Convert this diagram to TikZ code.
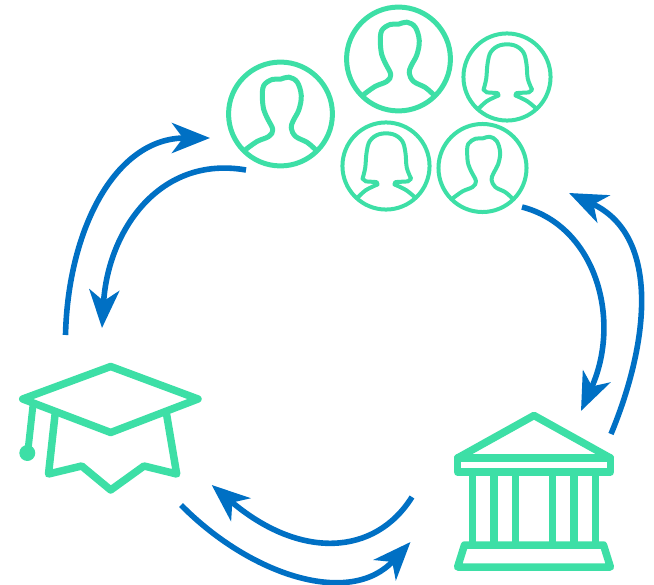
\documentclass[tikz,border=0pt]{standalone}
\usetikzlibrary{arrows.meta}
\definecolor{mint}{HTML}{3DDFA6}
\definecolor{flow}{HTML}{0070C4}
\tikzset{
  icon/.style={draw=mint,line join=round,line cap=round,fill=none},
  flowline/.style={draw=flow,line width=5.6pt,-{Stealth[length=38pt,width=30pt,inset=11pt,fill=flow]}},
  pics/maleface/.style={code={
    \draw[icon,line width=#1] (0,0) circle (155);
    \draw[icon,line width=#1] plot[smooth,tension=.6] coordinates {(-105,107) (-70,82) (-35,67) (-23,47) (-38,15) (-50,-13) (-54,-50) (-50,-85) (-25,-103) (0,-104) (25,-110) (50,-95) (62,-55) (55,-13) (38,20) (32,42) (45,67) (80,85) (105,107)};
  }},
  pics/femaleface/.style={code={
    \draw[icon,line width=#1] (0,0) circle (130);
    \draw[icon,line width=#1] plot[smooth,tension=.6] coordinates {(-85,95) (-60,72) (-25,55)} -- (-28,48) -- (-60,46) -- (-70,38) plot[smooth,tension=.6] coordinates {(-70,38) (-62,5) (-58,-40) (-48,-75) (-20,-95) (20,-95) (48,-75) (58,-40) (62,5) (75,38)} -- (65,46) -- (28,48) -- (25,55) plot[smooth,tension=.6] coordinates {(25,55) (60,72) (88,95)};
  }}
}
\begin{document}
\begin{tikzpicture}[x=1pt,y=-1pt]
\useasboundingbox (0,0) rectangle (654,585);
% people
\coordinate (personA) at (280.5,114);
\coordinate (personB) at (398.5,59);
\coordinate (personC) at (507,77);
\coordinate (personD) at (386,166);
\coordinate (personE) at (482.5,168);
\pic[shift={(personA)},x=0.335pt,y=-0.335pt] {maleface=5pt};
\pic[shift={(personB)},x=0.335pt,y=-0.335pt] {maleface=5pt};
\pic[shift={(personC)},x=0.335pt,y=-0.335pt] {femaleface=4pt};
\pic[shift={(personD)},x=0.335pt,y=-0.335pt] {femaleface=4pt};
\pic[shift={(personE)},x=0.284pt,y=-0.284pt] {maleface=4pt};
% cap
\draw[icon,line width=7.5pt] (110.7,366.5) -- (198,399) -- (110.7,432.5) -- (22.7,399) -- cycle;
\draw[icon,line width=7.5pt] (55,415) -- (48.5,474) -- (81.7,466) -- (110.7,490) -- (144,466) -- (176.7,474) -- (166.7,415);
\draw[icon,line width=7pt] (33,405) -- (28,450);
\fill[mint] (27.3,453) circle (8);
% bank
\draw[icon,line width=7.5pt] (457.6,458) -- (534,415.5) -- (610.4,458);
\draw[icon,line width=7.5pt] (457.6,458) rectangle (610.4,472);
\foreach \cx in {472.3,494,515.7,552.3,574,595.7}
  \draw[icon,line width=7.5pt,line cap=butt] (\cx,472) -- (\cx,545);
\draw[icon,line width=7.5pt] (464.5,545) -- (603.5,545) -- (610.4,567) -- (457.6,567) -- cycle;
% connectors
\coordinate (capout) at (65.5,335);
\coordinate (peoplein) at (210,138);
\coordinate (peopleout) at (246,170);
\coordinate (capin) at (102,328);
\coordinate (crowdout) at (522,207);
\coordinate (bankin) at (581,411);
\coordinate (bankout) at (611,434);
\coordinate (crowdin) at (569,193);
\coordinate (bankleft) at (412,497);
\coordinate (capright) at (211.7,485);
\coordinate (capexit) at (181,505);
\coordinate (bankentry) at (410.5,542);
\draw[flowline] (capout) .. controls (68,230) and (115,138) .. (peoplein);
\draw[flowline] (peopleout) .. controls (160,155) and (108,230) .. (capin);
\draw[flowline] (crowdout) .. controls (596,226) and (622,320) .. (bankin);
\draw[flowline] (bankout) .. controls (650,340) and (660,235) .. (crowdin);
\draw[flowline] (bankleft) .. controls (375,556) and (300,560) .. (capright);
\draw[flowline] (capexit) .. controls (250,575) and (350,608) .. (bankentry);
\end{tikzpicture}
\end{document}
